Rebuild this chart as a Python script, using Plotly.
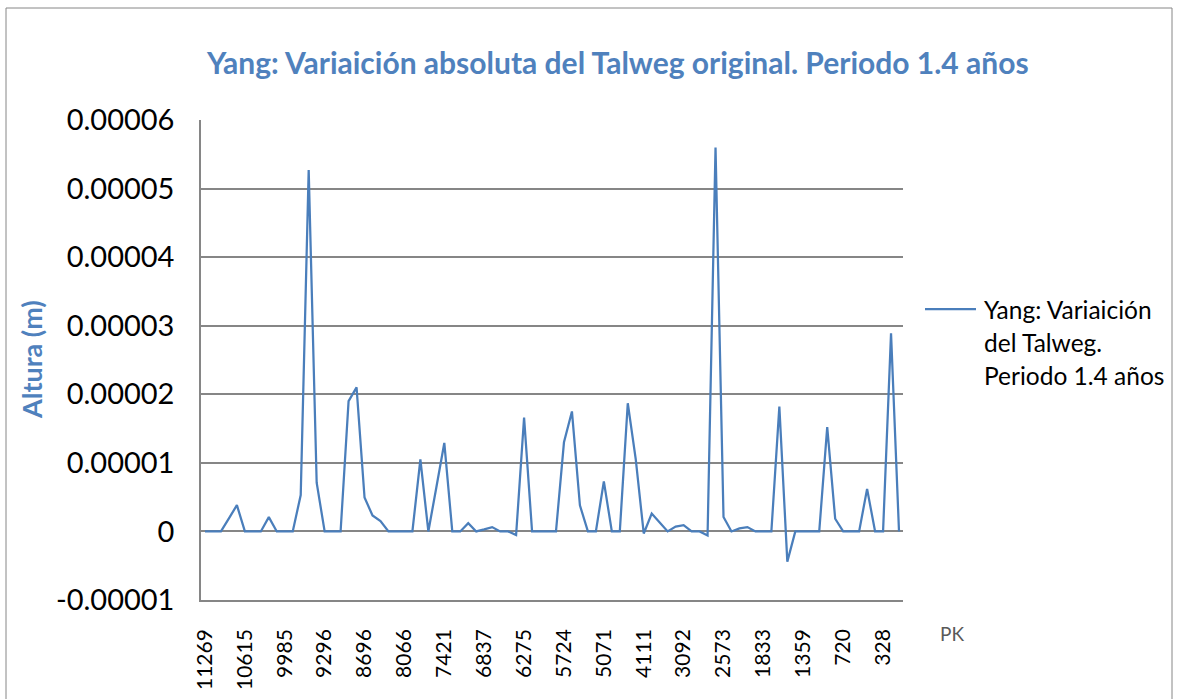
import plotly.graph_objects as go

# Category axis: PK stations (only every fifth station is labelled)
pk_labels = ["11269", "10615", "9985", "9296", "8696", "8066", "7421", "6837", "6275",
             "5724", "5071", "4111", "3092", "2573", "1833", "1359", "720", "328"]
label_step = 5

# Absolute variation of the thalweg (m), one value per station
variacion = [
    0, 0, 0, 1.9e-6, 3.83e-6, 0, 0, 0, 2.08e-6, 0,
    0, 0, 5.3e-6, 5.27e-5, 7.1e-6, 0, 0, 0, 1.90e-5, 2.10e-5,
    4.95e-6, 2.33e-6, 1.5e-6, 0, 0, 0, 0, 1.05e-5, 0, 6.4e-6,
    1.29e-5, 0, 0, 1.2e-6, 0, 0.3e-6, 0.63e-6, 0, 0, -0.54e-6,
    1.66e-5, 0, 0, 0, 0, 1.30e-5, 1.75e-5, 3.8e-6, 0, 0,
    7.3e-6, 0, 0, 1.87e-5, 1.05e-5, -0.3e-6, 2.6e-6, 1.3e-6, 0, 0.7e-6,
    0.92e-6, 0, 0, -0.58e-6, 5.60e-5, 2.1e-6, 0, 0.44e-6, 0.63e-6, 0,
    0, 0, 1.82e-5, -4.4e-6, 0, 0, 0, 0, 1.52e-5, 1.85e-6,
    0, 0, 0, 6.2e-6, 0, 0, 2.89e-5, 0,
]

y_ticks = [-0.00001, 0, 0.00001, 0.00002, 0.00003, 0.00004, 0.00005, 0.00006]
y_tick_text = ["-0.00001", "0", "0.00001", "0.00002", "0.00003", "0.00004", "0.00005", "0.00006"]

titulo = "Yang: Variaición absoluta del Talweg original. Periodo 1.4 años"
eje_y = "Altura (m)"
eje_x = "PK"
leyenda = ["Yang: Variaición", "del Talweg.", "Periodo 1.4 años"]

LINE = "#4A7EBB"
GRID = "#868686"
BLUE = "#4F81BD"
FONT = "Lato"

W, H = 1182, 699
L, R, T, B = 201, 279, 120, 99
PW, PH = W - L - R, H - T - B


def px(x):
    return (x - L) / PW


def py(y):
    return (H - B - y) / PH


idx = list(range(len(variacion)))

fig = go.Figure()
fig.add_trace(go.Scatter(
    x=idx, y=variacion, mode="lines",
    line=dict(color=LINE, width=2.25),
    name=" ".join(leyenda), showlegend=False,
))

fig.update_layout(
    width=W, height=H,
    margin=dict(l=L, r=R, t=T, b=B, autoexpand=False),
    paper_bgcolor="white", plot_bgcolor="white",
    font=dict(family=FONT, size=22, color="black"),
)

fig.update_xaxes(
    range=[-0.5, len(variacion) - 0.5],
    tickvals=idx[::label_step], ticktext=pk_labels,
    tickangle=-90, ticks="", ticklabelstandoff=19,
    showgrid=False, zeroline=False, automargin=False,
    showline=True, linecolor=GRID, linewidth=1.5,
    tickfont=dict(family=FONT, size=21, color="black"),
)
fig.update_yaxes(
    range=[-0.00001, 0.00006],
    tickvals=y_ticks, ticktext=y_tick_text,
    ticks="", ticklabelstandoff=19, automargin=False,
    showgrid=True, gridcolor=GRID, gridwidth=1.5,
    zeroline=False,
    showline=True, linecolor=GRID, linewidth=1.5,
    tickfont=dict(family=FONT, size=29, color="black"),
)

# Chart frame
fig.add_shape(type="rect", xref="paper", yref="paper",
              x0=px(6), x1=px(1172), y0=py(720), y1=py(8),
              line=dict(color=GRID, width=1), fillcolor="rgba(0,0,0,0)", layer="below")

# Title
fig.add_annotation(text=f"<b>{titulo}</b>", xref="paper", yref="paper",
                   x=px(617), y=py(62), xanchor="center", yanchor="middle",
                   showarrow=False, font=dict(family=FONT, size=30, color=BLUE))

# Y-axis title
fig.add_annotation(text=f"<b>{eje_y}</b>", xref="paper", yref="paper",
                   x=px(31), y=py(360), xanchor="center", yanchor="middle",
                   textangle=-90, showarrow=False,
                   font=dict(family=FONT, size=27, color=BLUE))

# X-axis caption
fig.add_annotation(text=eje_x, xref="paper", yref="paper",
                   x=px(952), y=py(633), xanchor="center", yanchor="middle",
                   showarrow=False, font=dict(family=FONT, size=19, color="#595959"))

# Legend key and text
fig.add_shape(type="line", xref="paper", yref="paper",
              x0=px(925), x1=px(976), y0=py(309), y1=py(309),
              line=dict(color=LINE, width=2.25))
for i, linea in enumerate(leyenda):
    fig.add_annotation(text=linea, xref="paper", yref="paper",
                       x=px(982), y=py(309 + 33 * i), xanchor="left", yanchor="middle",
                       showarrow=False, font=dict(family=FONT, size=24.5, color="black"))

fig.write_html("out.html")
